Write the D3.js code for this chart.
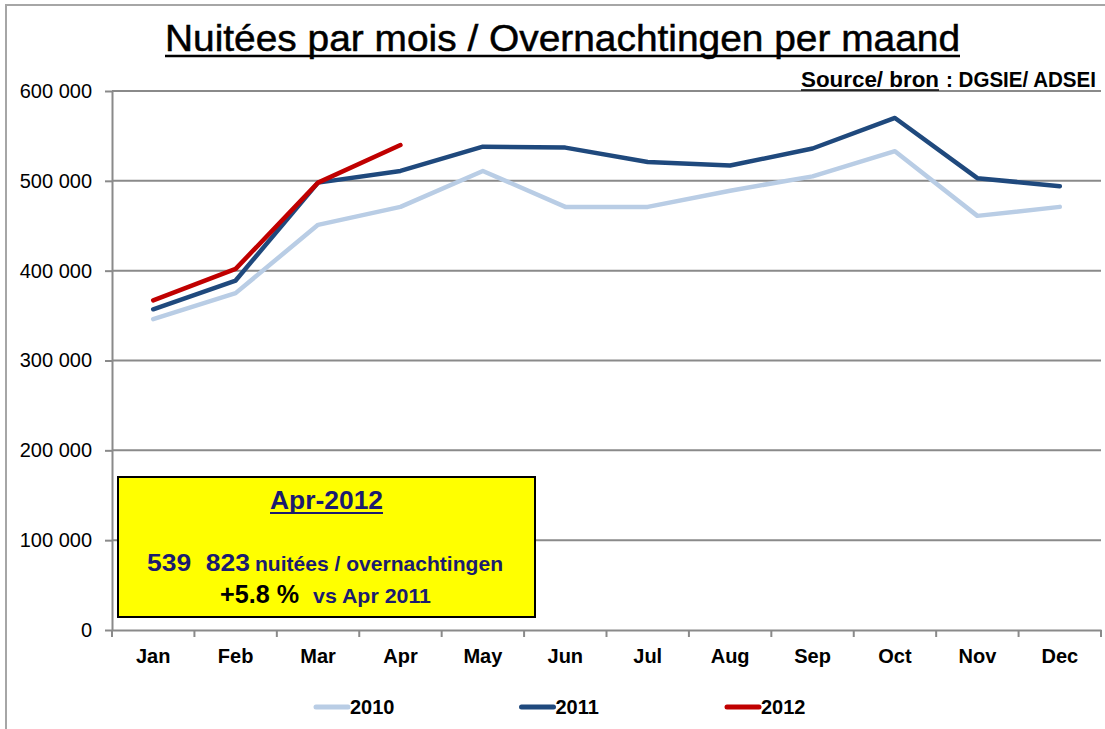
<!DOCTYPE html>
<html>
<head>
<meta charset="utf-8">
<script src="https://cdn.jsdelivr.net/npm/d3@7"></script>
<style>
  body { margin: 0; background: #fff; }
  svg { display: block; font-family: "Liberation Sans", Arial, sans-serif; }
</style>
</head>
<body>
<div id="chart"></div>
<script>
// data
const months = ['Jan', 'Feb', 'Mar', 'Apr', 'May', 'Jun', 'Jul', 'Aug', 'Sep', 'Oct', 'Nov', 'Dec'];
const values2010 = [346000, 375000, 451000, 471000, 511000, 471000, 471000, 489000, 505000, 533000, 461000, 471000];
const values2011 = [357000, 389000, 498000, 511000, 538000, 537000, 521000, 517000, 536000, 570000, 503000, 494000];
const values2012 = [367000, 402000, 498000, 539823];
const yTicks = [0, 100000, 200000, 300000, 400000, 500000, 600000];
const seriesNames = ['2010', '2011', '2012'];
const seriesColors = ['#b9cde5', '#1f497d', '#c00000'];

const W = 1105, H = 729;
const margin = { top: 91, right: 4, bottom: 99, left: 112 };
const navy = '#1b1b6f';
const grey = '#8a8a8a';

const svg = d3.select('#chart').append('svg')
    .attr('width', W)
    .attr('height', H);

// outer frame (right and bottom edges fall outside the picture)
svg.append('rect')
    .attr('x', 6).attr('y', 5)
    .attr('width', W).attr('height', H)
    .attr('fill', 'none')
    .attr('stroke', '#a6a6a6')
    .attr('stroke-width', 2);

const x = d3.scaleBand()
    .domain(months)
    .range([margin.left, W - margin.right])
    .paddingInner(0).paddingOuter(0);

const y = d3.scaleLinear()
    .domain([0, 600000])
    .range([H - margin.bottom, margin.top]);

const fmt = d3.formatLocale({ decimal: ',', thousands: ' ', grouping: [3], currency: ['', ''] }).format(',d');

// gridlines
svg.append('g')
    .selectAll('line')
    .data(yTicks.filter(d => d > 0))
    .join('line')
    .attr('x1', margin.left)
    .attr('x2', W - margin.right)
    .attr('y1', d => y(d))
    .attr('y2', d => y(d))
    .attr('stroke', grey)
    .attr('stroke-width', 2);

// y axis
const yAxis = svg.append('g')
    .attr('transform', `translate(${margin.left},0)`)
    .call(d3.axisLeft(y).tickValues(yTicks).tickFormat(fmt).tickSize(7).tickPadding(13).tickSizeOuter(0));
yAxis.select('.domain').attr('stroke', grey).attr('stroke-width', 2);
yAxis.selectAll('.tick line').attr('stroke', grey).attr('stroke-width', 2);
yAxis.selectAll('text')
    .style('font-size', '20px')
    .style('font-family', '"Liberation Sans", Arial, sans-serif')
    .attr('fill', '#000');

// x axis: labels at band centres, tick marks at band edges
const xAxis = svg.append('g')
    .attr('transform', `translate(0,${y(0)})`)
    .call(d3.axisBottom(x).tickSize(0).tickPadding(19).tickSizeOuter(0));
xAxis.select('.domain').attr('stroke', grey).attr('stroke-width', 2);
xAxis.selectAll('text')
    .style('font-size', '20px')
    .style('font-weight', 'bold')
    .style('font-family', '"Liberation Sans", Arial, sans-serif')
    .attr('fill', '#000');
xAxis.append('g')
    .selectAll('line')
    .data(months.concat(['__end']))
    .join('line')
    .attr('x1', (d, i) => x.range()[0] + i * x.step())
    .attr('x2', (d, i) => x.range()[0] + i * x.step())
    .attr('y1', 0)
    .attr('y2', 7)
    .attr('stroke', grey)
    .attr('stroke-width', 2);

// lines
const series = [values2010, values2011, values2012];
const line = d3.line()
    .x((d, i) => x(months[i]) + x.bandwidth() / 2)
    .y(d => y(d));

svg.append('g')
    .selectAll('path')
    .data(series)
    .join('path')
    .attr('d', d => line(d))
    .attr('fill', 'none')
    .attr('stroke', (d, i) => seriesColors[i])
    .attr('stroke-width', 4.5)
    .attr('stroke-linecap', 'round')
    .attr('stroke-linejoin', 'round');

// title
svg.append('text')
    .attr('x', 165)
    .attr('y', 51)
    .style('font-size', '37px')
    .attr('textLength', 795)
    .attr('lengthAdjust', 'spacingAndGlyphs')
    .attr('fill', '#000')
    .attr('stroke', '#000')
    .attr('stroke-width', 0.5)
    .text('Nuitées par mois / Overnachtingen per maand');
svg.append('line')
    .attr('x1', 165).attr('x2', 165 + 795)
    .attr('y1', 56).attr('y2', 56)
    .attr('stroke', '#000').attr('stroke-width', 2.5);

// source
svg.append('text')
    .attr('x', 801)
    .attr('y', 87)
    .style('font-size', '21.5px')
    .style('font-weight', 'bold')
    .attr('textLength', 138)
    .attr('lengthAdjust', 'spacingAndGlyphs')
    .attr('fill', '#000')
    .text('Source/ bron');
svg.append('text')
    .attr('x', 946)
    .attr('y', 87)
    .style('font-size', '21.5px')
    .style('font-weight', 'bold')
    .attr('textLength', 150)
    .attr('lengthAdjust', 'spacingAndGlyphs')
    .attr('fill', '#000')
    .text(': DGSIE/ ADSEI');
svg.append('line')
    .attr('x1', 801).attr('x2', 801 + 138)
    .attr('y1', 90).attr('y2', 90)
    .attr('stroke', '#000').attr('stroke-width', 1.5);

// annotation box
const box = svg.append('g');
box.append('rect')
    .attr('x', 118).attr('y', 477)
    .attr('width', 417).attr('height', 140)
    .attr('fill', '#ffff00')
    .attr('stroke', '#000')
    .attr('stroke-width', 2);

box.append('text')
    .attr('x', 270).attr('y', 509)
    .style('font-size', '26px')
    .style('font-weight', 'bold')
    .attr('textLength', 113)
    .attr('lengthAdjust', 'spacingAndGlyphs')
    .attr('fill', navy)
    .text('Apr-2012');
box.append('line')
    .attr('x1', 270).attr('x2', 270 + 113)
    .attr('y1', 513).attr('y2', 513)
    .attr('stroke', navy).attr('stroke-width', 2);

// annotation text pieces: [text, x start, baseline, width, size, colour]
const notes = [
    ['539\u00a0\u00a0823', 147, 571, 103, 24, navy],
    ['nuitées / overnachtingen', 255, 571, 248, 21, navy],
    ['+5.8 %', 220, 603, 79, 25, '#000'],
    ['vs Apr 2011', 313, 603, 118, 21, navy]
];
box.selectAll('text.note')
    .data(notes)
    .join('text')
    .attr('class', 'note')
    .attr('x', d => d[1])
    .attr('y', d => d[2])
    .attr('textLength', d => d[3])
    .attr('lengthAdjust', 'spacingAndGlyphs')
    .style('font-size', d => d[4] + 'px')
    .style('font-weight', 'bold')
    .attr('fill', d => d[5])
    .text(d => d[0]);

// legend
const legend = svg.append('g')
    .selectAll('g')
    .data(seriesNames)
    .join('g')
    .attr('transform', (d, i) => `translate(${316 + i * 205.5},707)`);
legend.append('line')
    .attr('x1', 0).attr('x2', 32)
    .attr('y1', 0).attr('y2', 0)
    .attr('stroke', (d, i) => seriesColors[i])
    .attr('stroke-width', 5)
    .attr('stroke-linecap', 'round');
legend.append('text')
    .attr('x', 34)
    .attr('dy', '0.36em')
    .style('font-size', '20px')
    .style('font-weight', 'bold')
    .attr('fill', '#000')
    .text(d => d);
</script>
</body>
</html>
